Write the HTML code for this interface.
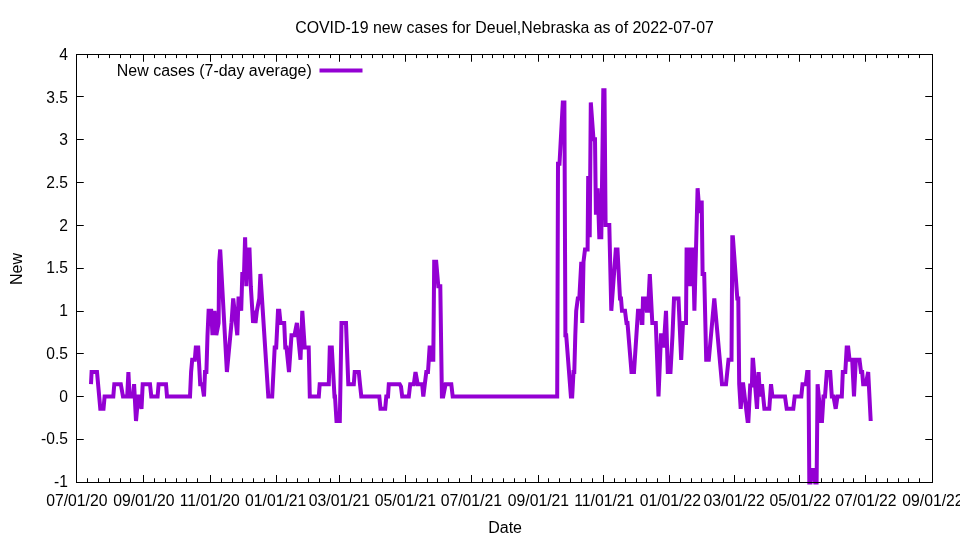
<!DOCTYPE html>
<html><head><meta charset="utf-8"><title>COVID-19 new cases</title>
<style>
html,body{margin:0;padding:0;background:#fff;}
body{width:960px;height:540px;overflow:hidden;}
svg{display:block;will-change:transform;}
text{font-family:"Liberation Sans",sans-serif;font-size:16px;fill:#000;}
</style></head><body>
<svg width="960" height="540" viewBox="0 0 960 540">
<rect x="0" y="0" width="960" height="540" fill="#ffffff"/>
<path d="M76.5 96.5h7.25M932.5 96.5h-7.25M76.5 139.5h7.25M932.5 139.5h-7.25M76.5 182.5h7.25M932.5 182.5h-7.25M76.5 225.5h7.25M932.5 225.5h-7.25M76.5 268.5h7.25M932.5 268.5h-7.25M76.5 311.5h7.25M932.5 311.5h-7.25M76.5 353.5h7.25M932.5 353.5h-7.25M76.5 396.5h7.25M932.5 396.5h-7.25M76.5 439.5h7.25M932.5 439.5h-7.25M143.5 482.5v-7.50M143.5 54.5v7.25M210.5 482.5v-7.50M210.5 54.5v7.25M276.5 482.5v-7.50M276.5 54.5v7.25M339.5 482.5v-7.50M339.5 54.5v7.25M405.5 482.5v-7.50M405.5 54.5v7.25M471.5 482.5v-7.50M471.5 54.5v7.25M538.5 482.5v-7.50M538.5 54.5v7.25M603.5 482.5v-7.50M603.5 54.5v7.25M669.5 482.5v-7.50M669.5 54.5v7.25M734.5 482.5v-7.50M734.5 54.5v7.25M799.5 482.5v-7.50M799.5 54.5v7.25M865.5 482.5v-7.50M865.5 54.5v7.25M87.5 482.5v-4.25M87.5 54.5v3.60M98.5 482.5v-4.25M98.5 54.5v3.60M109.5 482.5v-4.25M109.5 54.5v3.60M120.5 482.5v-4.25M120.5 54.5v3.60M130.5 482.5v-4.25M130.5 54.5v3.60M154.5 482.5v-4.25M154.5 54.5v3.60M165.5 482.5v-4.25M165.5 54.5v3.60M176.5 482.5v-4.25M176.5 54.5v3.60M186.5 482.5v-4.25M186.5 54.5v3.60M197.5 482.5v-4.25M197.5 54.5v3.60M221.5 482.5v-4.25M221.5 54.5v3.60M232.5 482.5v-4.25M232.5 54.5v3.60M242.5 482.5v-4.25M242.5 54.5v3.60M253.5 482.5v-4.25M253.5 54.5v3.60M264.5 482.5v-4.25M264.5 54.5v3.60M286.5 482.5v-4.25M286.5 54.5v3.60M297.5 482.5v-4.25M297.5 54.5v3.60M308.5 482.5v-4.25M308.5 54.5v3.60M319.5 482.5v-4.25M319.5 54.5v3.60M330.5 482.5v-4.25M330.5 54.5v3.60M350.5 482.5v-4.25M350.5 54.5v3.60M361.5 482.5v-4.25M361.5 54.5v3.60M372.5 482.5v-4.25M372.5 54.5v3.60M382.5 482.5v-4.25M382.5 54.5v3.60M393.5 482.5v-4.25M393.5 54.5v3.60M416.5 482.5v-4.25M416.5 54.5v3.60M427.5 482.5v-4.25M427.5 54.5v3.60M437.5 482.5v-4.25M437.5 54.5v3.60M448.5 482.5v-4.25M448.5 54.5v3.60M459.5 482.5v-4.25M459.5 54.5v3.60M482.5 482.5v-4.25M482.5 54.5v3.60M492.5 482.5v-4.25M492.5 54.5v3.60M503.5 482.5v-4.25M503.5 54.5v3.60M514.5 482.5v-4.25M514.5 54.5v3.60M525.5 482.5v-4.25M525.5 54.5v3.60M548.5 482.5v-4.25M548.5 54.5v3.60M559.5 482.5v-4.25M559.5 54.5v3.60M570.5 482.5v-4.25M570.5 54.5v3.60M581.5 482.5v-4.25M581.5 54.5v3.60M592.5 482.5v-4.25M592.5 54.5v3.60M614.5 482.5v-4.25M614.5 54.5v3.60M625.5 482.5v-4.25M625.5 54.5v3.60M636.5 482.5v-4.25M636.5 54.5v3.60M646.5 482.5v-4.25M646.5 54.5v3.60M657.5 482.5v-4.25M657.5 54.5v3.60M680.5 482.5v-4.25M680.5 54.5v3.60M691.5 482.5v-4.25M691.5 54.5v3.60M701.5 482.5v-4.25M701.5 54.5v3.60M712.5 482.5v-4.25M712.5 54.5v3.60M723.5 482.5v-4.25M723.5 54.5v3.60M744.5 482.5v-4.25M744.5 54.5v3.60M755.5 482.5v-4.25M755.5 54.5v3.60M766.5 482.5v-4.25M766.5 54.5v3.60M777.5 482.5v-4.25M777.5 54.5v3.60M788.5 482.5v-4.25M788.5 54.5v3.60M810.5 482.5v-4.25M810.5 54.5v3.60M821.5 482.5v-4.25M821.5 54.5v3.60M832.5 482.5v-4.25M832.5 54.5v3.60M843.5 482.5v-4.25M843.5 54.5v3.60M853.5 482.5v-4.25M853.5 54.5v3.60M876.5 482.5v-4.25M876.5 54.5v3.60M887.5 482.5v-4.25M887.5 54.5v3.60M898.5 482.5v-4.25M898.5 54.5v3.60M908.5 482.5v-4.25M908.5 54.5v3.60M919.5 482.5v-4.25M919.5 54.5v3.60" stroke="#000" stroke-width="1" fill="none"/>
<text transform="translate(67.90,59.90) scale(0.975,1)" text-anchor="end">4</text>
<text transform="translate(67.90,102.60) scale(0.975,1)" text-anchor="end">3.5</text>
<text transform="translate(67.90,145.30) scale(0.975,1)" text-anchor="end">3</text>
<text transform="translate(67.90,188.00) scale(0.975,1)" text-anchor="end">2.5</text>
<text transform="translate(67.90,230.70) scale(0.975,1)" text-anchor="end">2</text>
<text transform="translate(67.90,273.40) scale(0.975,1)" text-anchor="end">1.5</text>
<text transform="translate(67.90,316.10) scale(0.975,1)" text-anchor="end">1</text>
<text transform="translate(67.90,358.80) scale(0.975,1)" text-anchor="end">0.5</text>
<text transform="translate(67.90,401.50) scale(0.975,1)" text-anchor="end">0</text>
<text transform="translate(67.90,444.20) scale(0.975,1)" text-anchor="end">-0.5</text>
<text transform="translate(67.90,486.90) scale(0.975,1)" text-anchor="end">-1</text>
<text transform="translate(76.75,506.00) scale(0.984,1)" text-anchor="middle">07/01/20</text>
<text transform="translate(143.78,506.00) scale(0.984,1)" text-anchor="middle">09/01/20</text>
<text transform="translate(209.73,506.00) scale(0.984,1)" text-anchor="middle">11/01/20</text>
<text transform="translate(275.67,506.00) scale(0.984,1)" text-anchor="middle">01/01/21</text>
<text transform="translate(339.46,506.00) scale(0.984,1)" text-anchor="middle">03/01/21</text>
<text transform="translate(405.40,506.00) scale(0.984,1)" text-anchor="middle">05/01/21</text>
<text transform="translate(471.35,506.00) scale(0.984,1)" text-anchor="middle">07/01/21</text>
<text transform="translate(538.38,506.00) scale(0.984,1)" text-anchor="middle">09/01/21</text>
<text transform="translate(604.33,506.00) scale(0.984,1)" text-anchor="middle">11/01/21</text>
<text transform="translate(670.27,506.00) scale(0.984,1)" text-anchor="middle">01/01/22</text>
<text transform="translate(734.06,506.00) scale(0.984,1)" text-anchor="middle">03/01/22</text>
<text transform="translate(800.01,506.00) scale(0.984,1)" text-anchor="middle">05/01/22</text>
<text transform="translate(865.95,506.00) scale(0.984,1)" text-anchor="middle">07/01/22</text>
<text transform="translate(932.98,506.00) scale(0.984,1)" text-anchor="middle">09/01/22</text>
<text transform="translate(504.50,33.00) scale(0.994,1)" text-anchor="middle">COVID-19 new cases for Deuel,Nebraska as of 2022-07-07</text>
<text x="505.1" y="532.5" text-anchor="middle">Date</text>
<text transform="translate(21.5,269.0) rotate(-90)" text-anchor="middle">New</text>
<text transform="translate(311.80,75.50) scale(0.997,1)" text-anchor="end">New cases (7-day average)</text>
<path d="M319.5 70.4H362.5" stroke="#9400d3" stroke-width="4" fill="none"/>
<path d="M91.0 384.2 L91.6 372.0 L97.0 372.0 L100.3 408.8 L103.5 408.8 L104.6 396.5 L113.3 396.5 L114.3 384.2 L120.8 384.2 L123.0 396.5 L127.2 396.5 L128.4 372.0 L129.6 396.5 L133.0 396.5 L134.1 384.2 L136.0 421.0 L138.2 396.5 L139.3 396.5 L141.5 408.8 L142.7 384.2 L150.0 384.2 L151.3 396.5 L157.6 396.5 L158.6 384.2 L166.0 384.2 L167.0 396.5 L190.0 396.5 L191.1 372.0 L192.2 359.8 L194.8 359.8 L195.8 347.5 L198.2 347.5 L200.2 384.2 L202.2 384.2 L204.0 396.5 L205.0 372.0 L206.4 372.0 L207.5 335.2 L208.6 310.8 L211.2 310.8 L212.5 335.2 L214.5 310.8 L216.3 335.2 L218.6 323.0 L219.2 261.8 L220.2 249.5 L226.9 372.0 L231.5 323.0 L233.2 298.5 L237.3 335.2 L238.5 298.5 L240.0 298.5 L241.2 310.8 L242.3 274.0 L244.0 274.0 L245.1 237.2 L246.3 286.2 L247.4 249.5 L249.5 249.5 L250.8 286.2 L253.1 323.0 L254.3 310.8 L255.5 323.0 L256.9 310.8 L259.3 298.5 L260.4 274.0 L268.3 396.5 L272.2 396.5 L274.7 347.5 L276.2 347.5 L278.0 310.8 L279.3 310.8 L280.5 323.0 L284.2 323.0 L285.3 347.5 L286.5 347.5 L289.0 372.0 L291.5 335.2 L294.5 335.2 L296.9 323.0 L300.5 359.8 L302.3 310.8 L304.7 347.5 L308.7 347.5 L309.8 396.5 L318.8 396.5 L319.7 384.2 L328.8 384.2 L329.8 347.5 L331.8 347.5 L334.5 396.5 L335.0 396.5 L336.5 421.0 L339.8 421.0 L341.5 323.0 L346.0 323.0 L348.3 384.2 L353.8 384.2 L354.7 372.0 L358.8 372.0 L360.0 384.2 L361.3 396.5 L379.3 396.5 L380.5 408.8 L385.2 408.8 L386.3 396.5 L388.0 396.5 L388.8 384.2 L399.7 384.2 L401.0 386.7 L402.2 396.5 L408.8 396.5 L410.2 384.2 L413.8 384.2 L415.5 372.0 L417.7 384.2 L422.2 384.2 L423.3 396.5 L424.8 384.2 L426.3 372.0 L428.0 372.0 L429.6 347.5 L430.8 347.5 L432.0 359.8 L433.3 359.8 L434.2 261.8 L436.2 261.8 L438.3 286.2 L440.3 286.2 L441.9 396.5 L443.2 396.5 L445.6 384.2 L451.3 384.2 L452.7 396.5 L557.2 396.5 L558.0 163.8 L559.5 163.8 L562.8 102.5 L564.4 102.5 L565.4 335.2 L566.2 335.2 L570.9 396.5 L572.2 396.5 L573.5 372.0 L574.3 372.0 L575.3 335.2 L576.2 310.8 L577.8 298.5 L579.3 298.5 L581.3 261.8 L582.3 323.0 L583.5 261.8 L585.0 249.5 L587.6 249.5 L588.2 176.0 L589.7 237.2 L590.8 102.5 L593.5 139.2 L595.0 139.2 L595.9 212.8 L596.6 212.8 L597.7 188.2 L599.3 237.2 L601.3 237.2 L603.3 90.2 L604.5 90.2 L605.6 225.0 L609.3 225.0 L611.3 310.8 L615.8 249.5 L617.5 249.5 L620.0 298.5 L621.0 298.5 L622.0 310.8 L625.0 310.8 L626.5 323.0 L627.5 323.0 L631.5 372.0 L634.0 372.0 L638.0 310.8 L641.0 310.8 L641.7 323.0 L642.4 323.0 L643.0 298.5 L645.6 298.5 L646.8 310.8 L648.0 310.8 L649.8 274.0 L652.3 323.0 L655.8 323.0 L658.5 396.5 L661.0 335.2 L662.7 335.2 L663.7 347.5 L666.0 310.8 L667.8 372.0 L670.5 372.0 L672.5 335.2 L674.0 298.5 L678.5 298.5 L681.2 359.8 L683.0 323.0 L686.0 323.0 L686.6 249.5 L688.5 249.5 L690.0 286.2 L691.5 249.5 L693.0 249.5 L694.4 310.8 L697.6 188.2 L699.5 212.8 L701.7 200.5 L702.6 274.0 L704.2 274.0 L706.2 359.8 L708.8 359.8 L714.3 298.5 L722.0 384.2 L726.0 384.2 L728.5 359.8 L731.5 359.8 L732.3 237.2 L732.9 237.2 L737.3 298.5 L738.3 298.5 L739.2 384.2 L740.7 408.8 L742.6 384.2 L743.2 384.2 L747.6 421.0 L748.4 421.0 L750.2 385.5 L751.9 385.5 L752.6 359.8 L753.1 359.8 L757.0 408.8 L758.6 372.0 L760.0 396.5 L762.0 384.2 L764.4 408.8 L769.3 408.8 L771.0 384.2 L772.4 396.5 L785.0 396.5 L786.7 408.8 L793.3 408.8 L794.7 396.5 L801.3 396.5 L802.5 384.2 L805.8 384.2 L807.2 372.0 L808.5 372.0 L809.3 482.6 L810.6 482.6 L812.2 470.0 L813.6 470.0 L815.2 482.6 L816.6 482.6 L817.6 384.2 L821.1 421.0 L822.0 421.0 L823.5 396.5 L825.0 396.5 L826.8 372.0 L830.2 372.0 L831.8 396.5 L833.5 396.5 L835.7 408.8 L837.5 396.5 L841.8 396.5 L842.8 372.0 L845.3 372.0 L846.7 347.5 L848.2 347.5 L849.5 359.8 L852.2 359.8 L854.0 396.5 L855.8 359.8 L859.5 359.8 L861.0 372.0 L862.2 372.0 L863.2 384.2 L865.8 384.2 L868.2 372.0 L870.7 421.0" stroke="#9400d3" stroke-width="4" fill="none" stroke-linejoin="miter" stroke-miterlimit="4" stroke-linecap="butt"/>
<rect x="76.5" y="54.5" width="856.0" height="428.0" stroke="#000" stroke-width="1" fill="none"/>
</svg></body></html>
